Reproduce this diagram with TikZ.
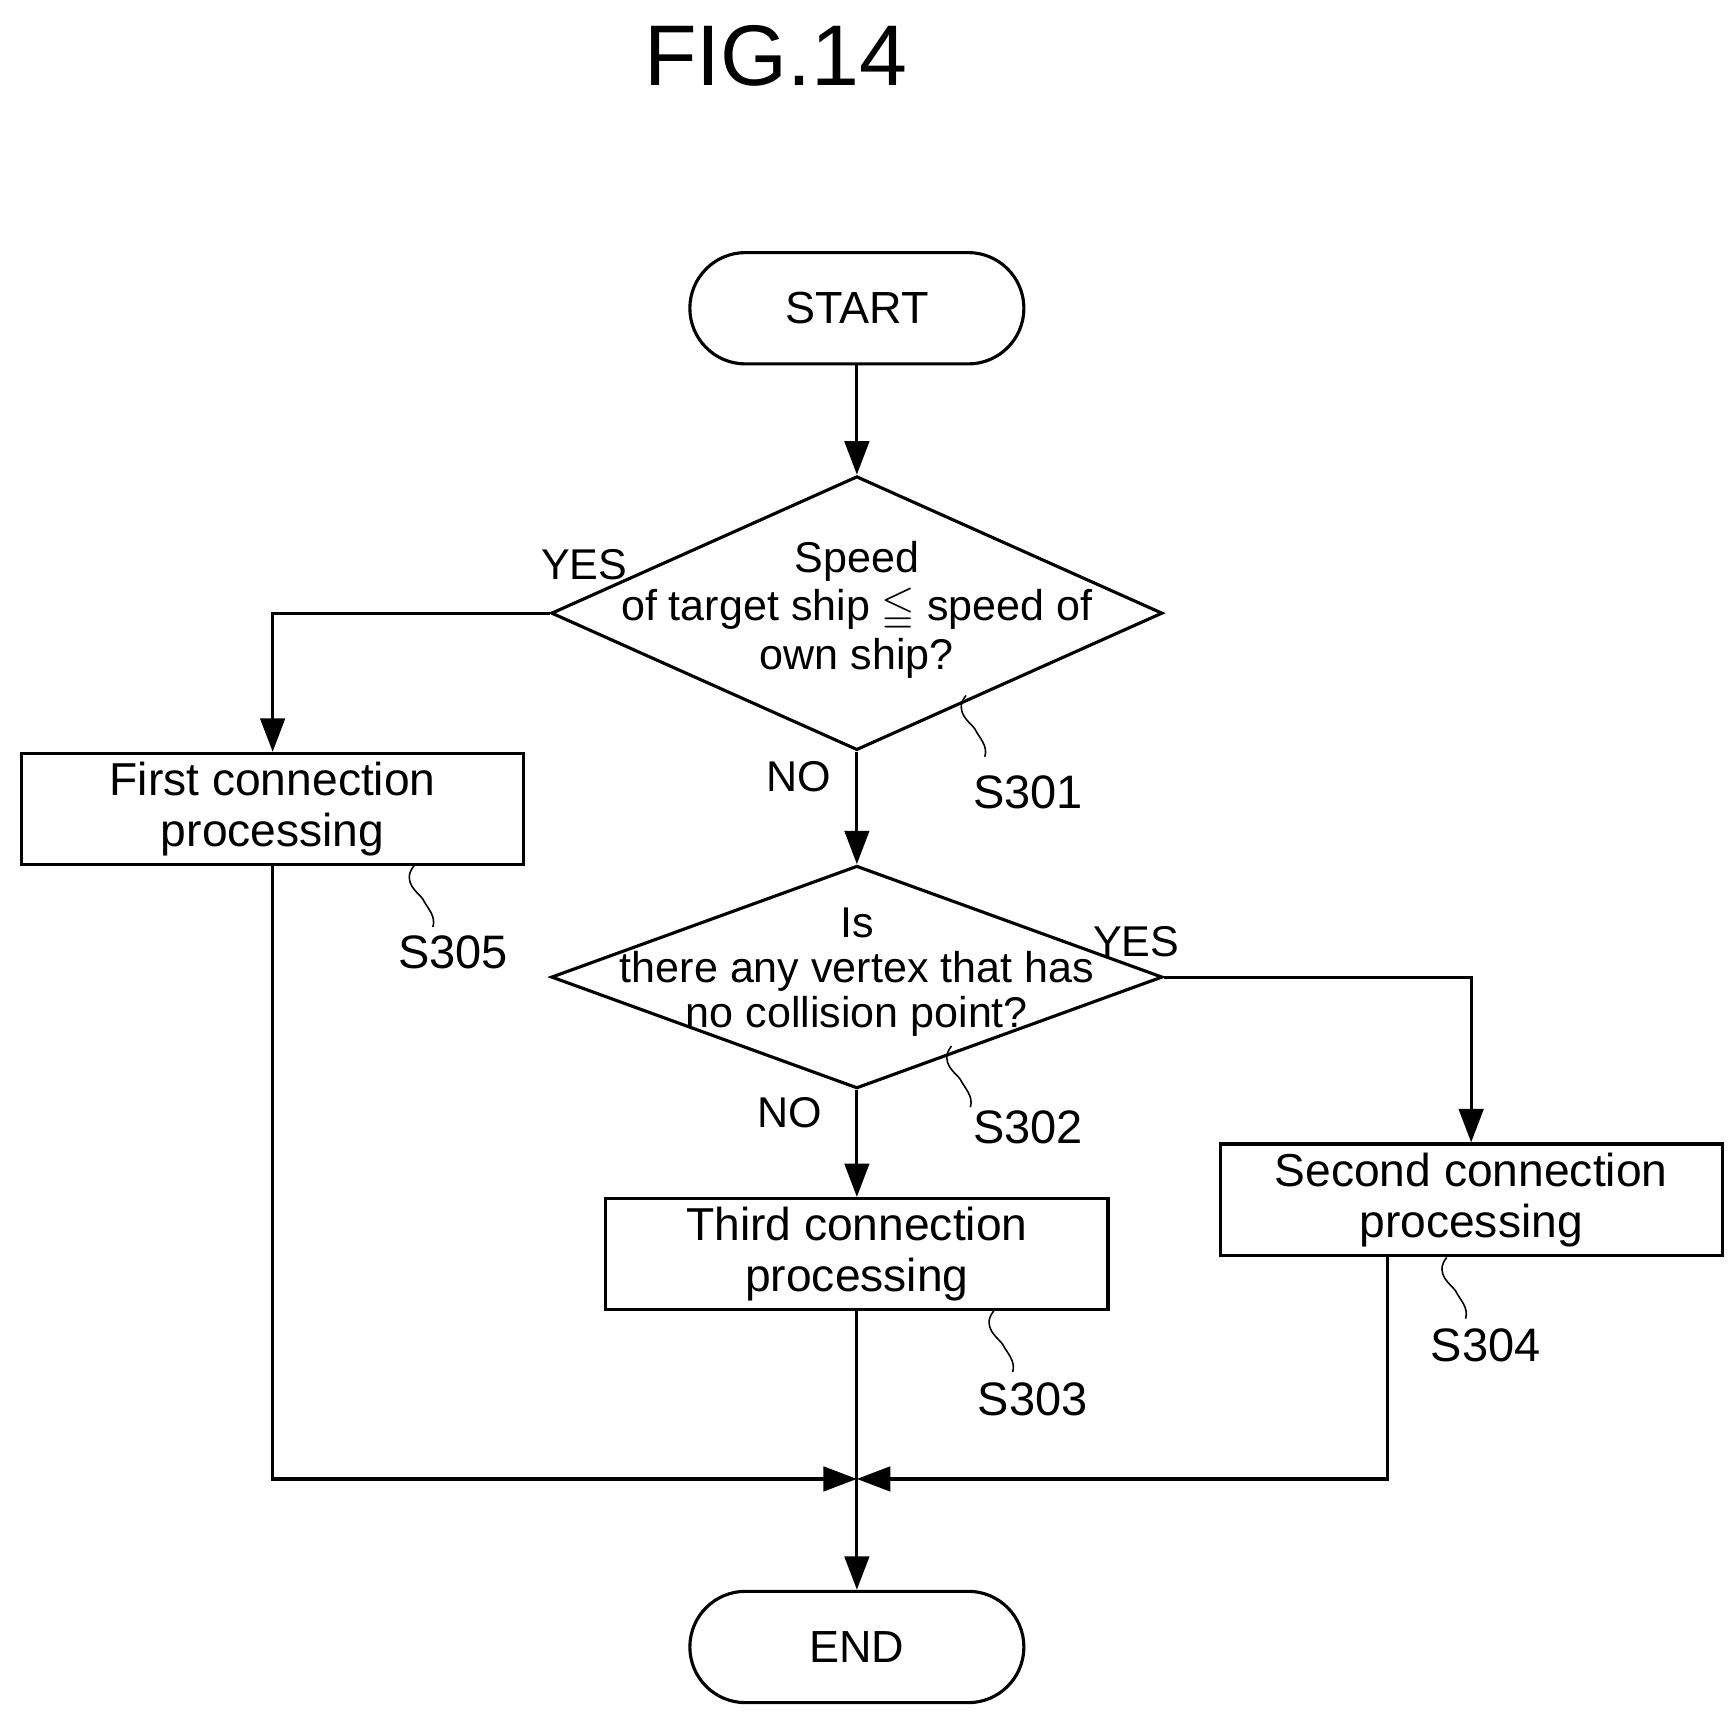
\documentclass[tikz,border=0pt]{standalone}
\usepackage{fontspec}
\setmainfont{Liberation Sans}
\usepackage{amssymb}
\usetikzlibrary{shapes.geometric,arrows.meta}

\tikzset{
  flow/.style={-{Triangle[length=0.3cm,width=0.22cm]}, thick},
  line/.style={thick},
  term/.style={draw, thick, rounded corners=0.5cm, minimum width=3cm, minimum height=1cm, inner sep=0pt},
  proc/.style={draw, thick, minimum width=4.51cm, minimum height=1cm, align=center, inner sep=0pt, font=\fontsize{11.8}{13}\selectfont},
  decide/.style={draw, thick, diamond, minimum width=5.49cm, inner sep=0pt},
  txt/.style={align=center, font=\fontsize{11}{12.5}\selectfont},
  tag/.style={font=\fontsize{11}{13}\selectfont},
  stepno/.style={font=\fontsize{12}{13}\selectfont},
  pics/leader/.style={code={
    \draw[thin] (0,0) .. controls (-12,15) and (5,25) .. (8,30)
                      .. controls (12,38) and (20,45) .. (17,55);}}
}

\begin{document}
\begin{tikzpicture}[x=0.01cm, y=-0.01cm]
   % Page frame
   \useasboundingbox (0,0) rectangle (1560,1542);
   \node[font=\fontsize{22}{24}\selectfont] (title) at (697,50) {FIG.14};
   % Terminals
   \node[term, font=\fontsize{11.5}{13}\selectfont] (start) at (770,277) {START};
   \node[term, font=\fontsize{11.5}{13}\selectfont] (end) at (770,1480) {END};
   % Decisions
   \node[decide, minimum height=2.46cm] (d1) at (770,551) {};
   \node[txt] (d1t) at (770,548) {Speed\\of target ship $\leqq$ speed of\\own ship?};
   \node[decide, minimum height=2.0cm] (d2) at (770,878) {};
   \node[txt, font=\fontsize{11}{11.5}\selectfont] (d2t) at (770,874) {Is\\there any vertex that has\\no collision point?};
   % Processes
   \node[proc] (first) at (245,727) {First connection\\processing};
   \node[proc] (third) at (770,1127) {Third connection\\processing};
   \node[proc] (second) at (1322,1078) {Second connection\\processing};
   \coordinate (merge) at (770,1329);
   % Connectors
   \draw[flow] (start) -- (d1);
   \draw[flow] (d1.south) -- (d2.north);
   \draw[flow] (d1.west) -| (first.north);
   \draw[flow] (d2.east) -| (second.north);
   \draw[flow] (d2.south) -- (third.north);
   \draw[flow] (first.south) |- (merge);
   \draw[flow] (second.south -| 1247,0) |- (merge);
   \draw[line] (third.south) -- (merge);
   \draw[flow] (merge) -- (end);
   % Branch labels
   \node[tag] (y1) at (525,507) {YES};
   \node[tag] (n1) at (718,698) {NO};
   \node[tag] (y2) at (1021,846) {YES};
   \node[tag] (n2) at (710,1000) {NO};
   % Step labels
   \pic at (868,625) {leader};
   \node[stepno] (s301) at (924,712) {S301};
   \pic at (855,940) {leader};
   \node[stepno] (s302) at (924,1013) {S302};
   \pic at (893,1178) {leader};
   \node[stepno] (s303) at (928,1257) {S303};
   \pic at (1300,1130) {leader};
   \node[stepno] (s304) at (1335,1209) {S304};
   \pic at (372,778) {leader};
   \node[stepno] (s305) at (407,856) {S305};
\end{tikzpicture}
\end{document}
